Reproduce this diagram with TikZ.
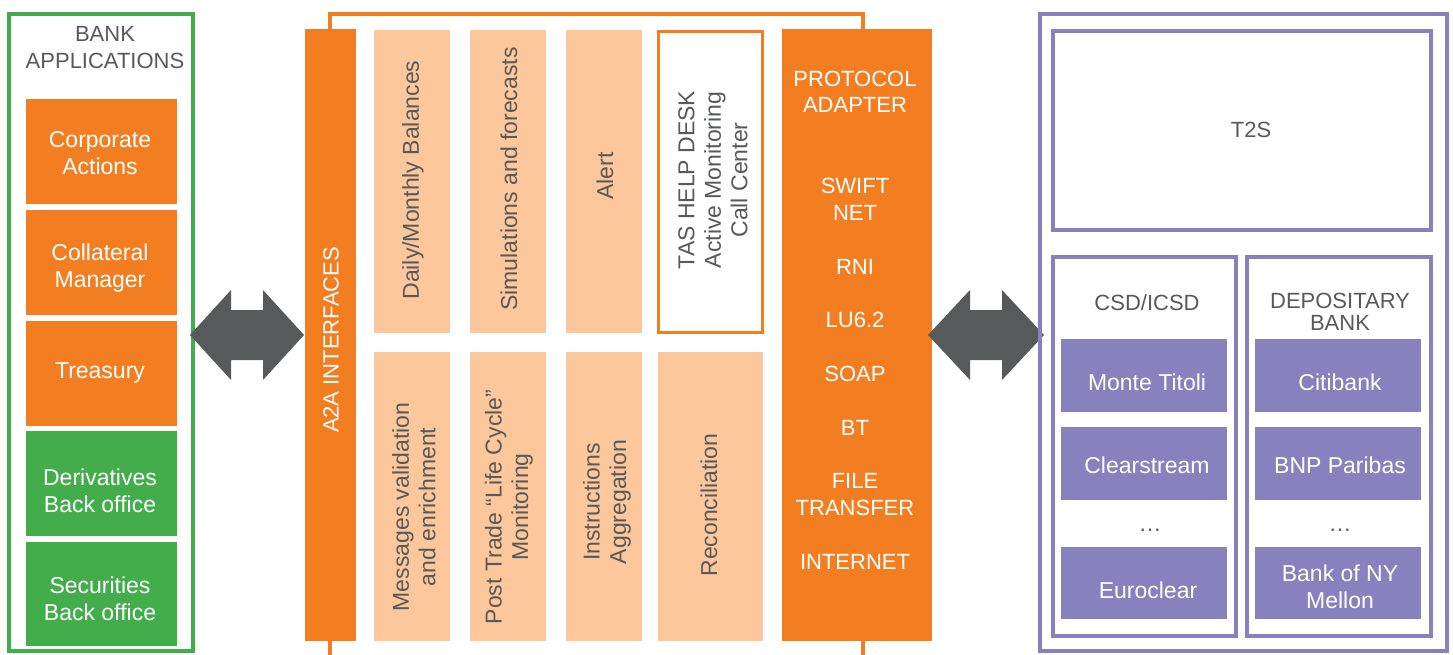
\documentclass[tikz,border=0pt]{standalone}
\usepackage{fontspec}
\setmainfont{Liberation Sans}
\definecolor{tOrange}{HTML}{F37E22}
\definecolor{tLight}{HTML}{FCC79B}
\definecolor{tGreen}{HTML}{43AD4B}
\definecolor{tPurple}{HTML}{8782BD}
\definecolor{tGray}{HTML}{58595B}
\newcommand\mcf{\fontsize{23}{26.5}\selectfont}
\newcommand\ucf{\fontsize{22}{26.5}\selectfont}
\begin{document}
\begin{tikzpicture}[x=1pt,y=-1pt,
  shp/.style={inner sep=0pt, outer sep=0pt},
  orbox/.style={shp, fill=tOrange},
  grbox/.style={shp, fill=tGreen},
  ltbox/.style={shp, fill=tLight},
  pubox/.style={shp, fill=tPurple},
  puframe/.style={shp, draw=tPurple, line width=4pt},
  wtxt/.style={inner sep=0pt, text=white, align=center, font=\mcf},
  gtxt/.style={inner sep=0pt, text=tGray, align=center, font=\mcf},
  wcap/.style={inner sep=0pt, text=white, align=center, font=\ucf},
  gcap/.style={inner sep=0pt, text=tGray, align=center, font=\ucf},
  arrowshape/.style={fill=tGray}
]
\useasboundingbox (0,0) rectangle (1453,655);

% ---------- orange bracket of the middle block
\draw[tOrange, line width=4.5pt] (330,655) -- (330,14) -- (863,14) -- (863,655);

% ---------- left: bank applications
\node[shp, draw=tGreen, line width=4pt, minimum width=184, minimum height=637] (bankframe) at (101,332.5) {};
\node[gcap] (banktitle) at (105,47.5) {BANK\\APPLICATIONS};
\node[orbox, minimum width=151, minimum height=105] (ca) at (101.5,151.5) {};
\node[orbox, minimum width=151, minimum height=105] (cm) at (101.5,262.5) {};
\node[orbox, minimum width=151, minimum height=105] (tr) at (101.5,373.5) {};
\node[grbox, minimum width=151, minimum height=105] (dbo) at (101.5,483.5) {};
\node[grbox, minimum width=151, minimum height=104] (sbo) at (101.5,594) {};
\node[wtxt] (caT) at (100,153) {Corporate\\Actions};
\node[wtxt] (cmT) at (100,268) {Collateral\\Manager};
\node[wtxt] (trT) at (100,373) {Treasury};
\node[wtxt] (dboT) at (100,491) {Derivatives\\Back office};
\node[wtxt] (sboT) at (100,599) {Securities\\Back office};

% ---------- left double arrow
\fill[arrowshape] (190,335) -- (231,290) -- (231,310) -- (263,310) -- (263,290) -- (304,335)
  -- (263,380) -- (263,360) -- (231,360) -- (231,380) -- cycle;

% ---------- middle block
\node[orbox, minimum width=51, minimum height=612] (a2a) at (330.5,335) {};
\node[wcap, rotate=90] (a2aT) at (331,340) {A2A INTERFACES};

\node[ltbox, minimum width=76, minimum height=303] (c1) at (412,181.5) {};
\node[ltbox, minimum width=76, minimum height=303] (c2) at (508,181.5) {};
\node[ltbox, minimum width=76, minimum height=303] (c3) at (604,181.5) {};
\node[shp, fill=white, draw=tOrange, line width=3pt, minimum width=104, minimum height=300] (c4) at (710.5,182) {};

\node[ltbox, minimum width=76, minimum height=289] (d1) at (412,496.5) {};
\node[ltbox, minimum width=76, minimum height=289] (d2) at (508,496.5) {};
\node[ltbox, minimum width=76, minimum height=289] (d3) at (604,496.5) {};
\node[ltbox, minimum width=105, minimum height=289] (d4) at (710.5,496.5) {};

\node[gtxt, rotate=90] (c1T) at (413,180) {Daily/Monthly Balances};
\node[gtxt, rotate=90] (c2T) at (509,179) {Simulations and forecasts};
\node[gtxt, rotate=90] (c3T) at (605,176) {Alert};
\node[gtxt, rotate=90] (c4T) at (713,180) {TAS HELP DESK\\Active Monitoring\\Call Center};

\node[gtxt, rotate=90] (d1T) at (414,507) {Messages validation\\and enrichment};
\node[gtxt, rotate=90] (d2T) at (509,507) {Post Trade “Life Cycle”\\Monitoring};
\node[gtxt, rotate=90] (d3T) at (607,502) {Instructions\\Aggregation};
\node[gtxt, rotate=90] (d4T) at (709,505) {Reconciliation};

\node[orbox, minimum width=150, minimum height=612] (proto) at (857,335) {};
\node[wcap] (p1) at (855,92) {PROTOCOL\\ADAPTER};
\node[wcap] (p2) at (855,199.5) {SWIFT\\NET};
\node[wcap] (p3) at (855,267) {RNI};
\node[wcap] (p4) at (855,320) {LU6.2};
\node[wcap] (p5) at (855,374) {SOAP};
\node[wcap] (p6) at (855,427.5) {BT};
\node[wcap] (p7) at (855,494.5) {FILE\\TRANSFER};
\node[wcap] (p8) at (855,561.5) {INTERNET};

% ---------- right double arrow
\fill[arrowshape] (928,335) -- (970,290) -- (970,310) -- (1002,310) -- (1002,290) -- (1044,335)
  -- (1002,380) -- (1002,360) -- (970,360) -- (970,380) -- cycle;

% ---------- right block
\node[puframe, minimum width=407, minimum height=637] (outer) at (1243.5,332.5) {};
\node[puframe, minimum width=378, minimum height=199] (t2s) at (1242,130.5) {};
\node[gtxt, font=\ucf] (t2sT) at (1251,130) {T2S};
\node[puframe, minimum width=183, minimum height=379] (csd) at (1144.5,446.5) {};
\node[puframe, minimum width=184, minimum height=379] (dep) at (1339,446.5) {};
\node[gcap] (csdT) at (1147,302.5) {CSD/ICSD};
\node[gcap, font=\fontsize{22}{22.5}\selectfont] (depT) at (1340,312) {DEPOSITARY\\BANK};

\node[pubox, minimum width=166, minimum height=73] (mt) at (1144,375.5) {};
\node[pubox, minimum width=166, minimum height=73] (cs) at (1144,463.5) {};
\node[pubox, minimum width=166, minimum height=72] (ec) at (1144,583) {};
\node[pubox, minimum width=166, minimum height=73] (cb) at (1338,375.5) {};
\node[pubox, minimum width=166, minimum height=73] (bnp) at (1338,463.5) {};
\node[pubox, minimum width=166, minimum height=72] (bny) at (1338,583) {};

\node[wtxt] (mtT) at (1147,382.5) {Monte Titoli};
\node[wtxt] (csT) at (1147,465) {Clearstream};
\node[wtxt] (ecT) at (1148,590.5) {Euroclear};
\node[wtxt] (cbT) at (1340,382.5) {Citibank};
\node[wtxt] (bnpT) at (1340,465) {BNP Paribas};
\node[wtxt] (bnyT) at (1340,587) {Bank of NY\\Mellon};
\node[gtxt, anchor=base] (dots1) at (1150,531) {…};
\node[gtxt, anchor=base] (dots2) at (1340,531) {…};
\end{tikzpicture}
\end{document}
